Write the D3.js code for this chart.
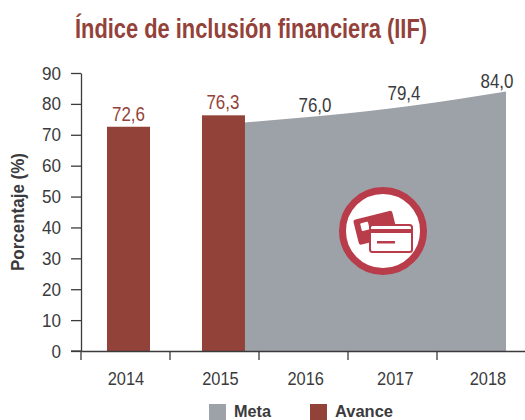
<!DOCTYPE html>
<html><head><meta charset="utf-8">
<script src="https://cdnjs.cloudflare.com/ajax/libs/d3/7.8.5/d3.min.js"></script>
<style>html,body{margin:0;padding:0;background:#fff}svg{display:block}text{font-family:"Liberation Sans",Arial,sans-serif}</style>
</head><body><div id="chart"></div>
<script>
const years=[2014,2015,2016,2017,2018];
const avanceYears=[2014,2015];
const avanceValues=[72.6,76.3];
const avanceLabels=["72,6","76,3"];
const metaYears=[2015.23,2016,2017,2018];
const metaValues=[74.0,76.0,79.4,84.0];
const metaLabelYears=[2016,2017,2018];
const metaLabels=["76,0","79,4","84,0"];
const yTicks=[0,10,20,30,40,50,60,70,80,90];
const legendItems=["Meta","Avance"];
const title="Índice de inclusión financiera (IIF)";
const yTitle="Porcentaje (%)";

const W=525,H=420,dark="#3b3b3d",brick="#93423a",gray="#9da2a8",ringC="#b93c4a";
const svg=d3.select("#chart").append("svg").attr("width",W).attr("height",H);
const y=d3.scaleLinear().domain([0,90]).range([351,73]);
const x=d3.scaleLinear().domain([2014,2018]).range([128.5,506]);
const band=d3.scaleBand().domain(years).range([81,526]);
const labelX=d3.scaleOrdinal().domain(years).range([126,220.5,305.7,395.3,488]);
const barW=43;

svg.append("text").text(title).attr("x",75).attr("y",38).attr("fill",brick)
 .attr("font-size",28).attr("font-weight",700).attr("textLength",352).attr("lengthAdjust","spacingAndGlyphs");

const area=d3.area().x((d,i)=>x(metaYears[i])).y0(y(0)).y1(d=>y(d)).curve(d3.curveMonotoneX);
svg.append("path").datum(metaValues).attr("d",area).attr("fill",gray);

svg.selectAll("rect.bar").data(avanceValues).join("rect").attr("class","bar")
 .attr("x",(d,i)=>x(avanceYears[i])-barW/2+(i?0.6:0)).attr("width",barW)
 .attr("y",d=>y(d)).attr("height",d=>y(0)-y(d)).attr("fill",brick);

svg.selectAll("text.al").data(avanceLabels).join("text").attr("class","al").text(d=>d)
 .attr("x",(d,i)=>x(avanceYears[i])).attr("y",(d,i)=>y(avanceValues[i])-6)
 .attr("text-anchor","middle").attr("font-size",19.5).attr("fill",brick).attr("textLength",33).attr("lengthAdjust","spacingAndGlyphs");
const mlx=d3.scaleOrdinal().domain(metaLabelYears).range([315,404,497]);
const mly=d3.scaleOrdinal().domain(metaLabelYears).range([112,100,88]);
svg.selectAll("text.ml").data(metaLabels).join("text").attr("class","ml").text(d=>d)
 .attr("x",(d,i)=>mlx(metaLabelYears[i])).attr("y",(d,i)=>mly(metaLabelYears[i]))
 .attr("text-anchor","middle").attr("font-size",19.5).attr("fill",dark).attr("textLength",33).attr("lengthAdjust","spacingAndGlyphs");

// axes
const ya=svg.append("g").attr("transform","translate(81,0)")
 .call(d3.axisLeft(y).tickValues(yTicks).tickSize(10).tickPadding(10).tickSizeOuter(0));
ya.select(".domain").attr("stroke",dark).attr("stroke-width",1.3);
ya.selectAll("line").attr("stroke",dark).attr("stroke-width",1.3);
ya.selectAll("text").attr("font-size",19).attr("fill",dark).attr("font-family",'"Liberation Sans",Arial,sans-serif')
 .attr("lengthAdjust","spacingAndGlyphs").attr("textLength",d=>d===0?9.5:19);
const xa=svg.append("g").attr("transform","translate(0,351)")
 .call(d3.axisBottom(band).tickValues([]).tickSizeOuter(0));
xa.select(".domain").attr("stroke",dark).attr("stroke-width",1.3);
svg.append("g").selectAll("line").data(years).join("line")
 .attr("x1",d=>band(d)).attr("x2",d=>band(d)).attr("y1",351).attr("y2",360).attr("stroke",dark).attr("stroke-width",1.3);
svg.append("line").attr("x1",71).attr("x2",81).attr("y1",351).attr("y2",351).attr("stroke",dark).attr("stroke-width",1.3);
svg.selectAll("text.xl").data(years).join("text").attr("class","xl").text(d=>d)
 .attr("x",d=>labelX(d)).attr("y",385).attr("text-anchor","middle").attr("font-size",18.5).attr("fill",dark)
 .attr("textLength",36.5).attr("lengthAdjust","spacingAndGlyphs");

svg.append("text").text(yTitle).attr("transform","translate(24,212) rotate(-90)")
 .attr("text-anchor","middle").attr("font-size",18.5).attr("font-weight",700).attr("fill",dark)
 .attr("textLength",118).attr("lengthAdjust","spacingAndGlyphs");

// legend
const legX=d3.scaleOrdinal().domain(legendItems).range([209,310]);
const legLen=d3.scaleOrdinal().domain(legendItems).range([37,58]);
const legC=d3.scaleOrdinal().domain(legendItems).range([gray,brick]);
svg.selectAll("rect.lg").data(legendItems).join("rect").attr("class","lg")
 .attr("x",d=>legX(d)).attr("y",404).attr("width",17).attr("height",16).attr("fill",d=>legC(d));
svg.selectAll("text.lt").data(legendItems).join("text").attr("class","lt").text(d=>d)
 .attr("x",d=>legX(d)+25).attr("y",416.5).attr("font-size",17).attr("font-weight",700).attr("fill",dark)
 .attr("textLength",d=>legLen(d)).attr("lengthAdjust","spacingAndGlyphs");

// icon
const ic=svg.append("g").attr("transform","translate(383,231)");
ic.append("circle").attr("r",40.5).attr("fill","#fff").attr("stroke",ringC).attr("stroke-width",7);
const back=ic.append("g").attr("transform","rotate(-14 -30 -11)");
back.append("rect").attr("x",-30).attr("y",-11).attr("width",40).attr("height",26).attr("rx",2.5).attr("fill",ringC);
back.append("rect").attr("x",-24).attr("y",-6).attr("width",8).attr("height",8).attr("rx",1).attr("fill","#fff");
ic.append("rect").attr("x",-13).attr("y",-6).attr("width",42).attr("height",27).attr("rx",2.5).attr("fill","#fff").attr("stroke",ringC).attr("stroke-width",2);
ic.append("rect").attr("x",-13).attr("y",-2).attr("width",42).attr("height",4).attr("fill",ringC);
ic.append("rect").attr("x",-6).attr("y",10).attr("width",18).attr("height",2.5).attr("fill",ringC);
</script></body></html>
